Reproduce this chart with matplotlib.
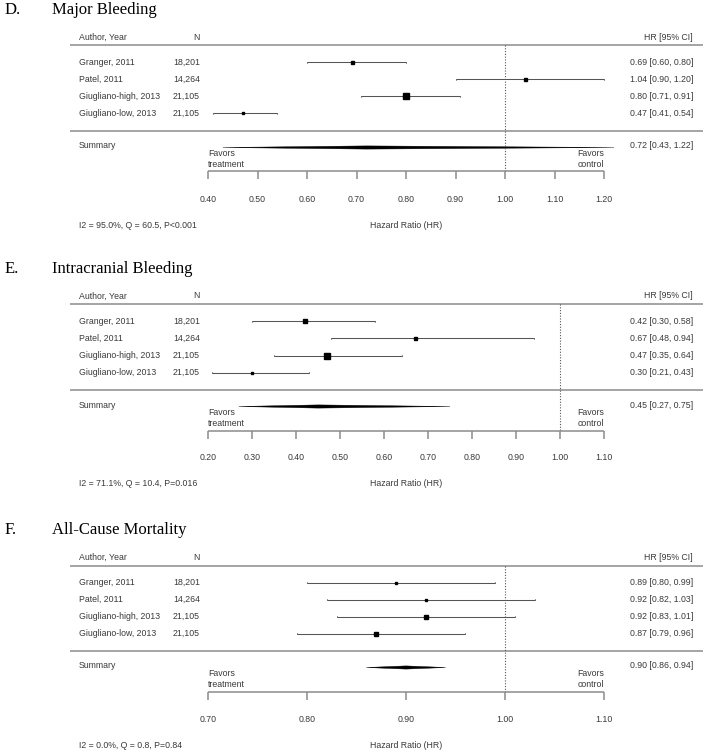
import matplotlib.pyplot as plt

# data
studies = ["Granger, 2011", "Patel, 2011", "Giugliano-high, 2013", "Giugliano-low, 2013"]
n_values = ["18,201", "14,264", "21,105", "21,105"]

titles = ["Major Bleeding", "Intracranial Bleeding", "All-Cause Mortality"]
letters = ["D.", "E.", "F."]

hr_major = [0.69, 1.04, 0.80, 0.47]
lo_major = [0.60, 0.90, 0.71, 0.41]
hi_major = [0.80, 1.20, 0.91, 0.54]
box_major = [3.0, 3.0, 6.0, 2.0]
summary_major = [0.72, 0.43, 1.22]
ticks_major = [0.40, 0.50, 0.60, 0.70, 0.80, 0.90, 1.00, 1.10, 1.20]
het_major = "I2 = 95.0%, Q = 60.5, P<0.001"

hr_ich = [0.42, 0.67, 0.47, 0.30]
lo_ich = [0.30, 0.48, 0.35, 0.21]
hi_ich = [0.58, 0.94, 0.64, 0.43]
box_ich = [4.0, 3.0, 6.0, 2.0]
summary_ich = [0.45, 0.27, 0.75]
ticks_ich = [0.20, 0.30, 0.40, 0.50, 0.60, 0.70, 0.80, 0.90, 1.00, 1.10]
het_ich = "I2 = 71.1%, Q = 10.4, P=0.016"

hr_mort = [0.89, 0.92, 0.92, 0.87]
lo_mort = [0.80, 0.82, 0.83, 0.79]
hi_mort = [0.99, 1.03, 1.01, 0.96]
box_mort = [2.5, 2.0, 5.0, 5.0]
summary_mort = [0.90, 0.86, 0.94]
ticks_mort = [0.70, 0.80, 0.90, 1.00, 1.10]
het_mort = "I2 = 0.0%, Q = 0.8, P=0.84"

panels = [
    (hr_major, lo_major, hi_major, box_major, summary_major, ticks_major, het_major),
    (hr_ich, lo_ich, hi_ich, box_ich, summary_ich, ticks_ich, het_ich),
    (hr_mort, lo_mort, hi_mort, box_mort, summary_mort, ticks_mort, het_mort),
]

W, H = 703, 750
PX = 72 / 100  # points per pixel
SANS = "Liberation Sans"
SERIF = "Liberation Serif"
TXT = "#3a3a3a"
GRAY = "#8c8c8c"
FS = 6.3

fig = plt.figure(figsize=(W / 100, H / 100), dpi=100)

panel_tops = [0, 259, 520]
PANEL_H = 250
AX_L, AX_R = 208, 604  # pixel span of the HR axis

for k, (hr, lo, hi, box, summ, ticks, het) in enumerate(panels):
    top = panel_tops[k]
    ax = fig.add_axes([0, 1 - (top + PANEL_H) / H, 1, PANEL_H / H])
    ax.set_axis_off()
    x0, x1 = ticks[0], ticks[-1]
    per_px = (x1 - x0) / (AX_R - AX_L)
    ax.set_xlim(x0 - AX_L * per_px, x0 + (W - AX_L) * per_px)
    ax.set_ylim(PANEL_H, 0)

    def fx(px):
        return x0 + (px - AX_L) * per_px

    # title
    ax.text(fx(5), 10, letters[k], family=SERIF, fontsize=12, va="center", ha="left")
    ax.text(fx(52), 10, titles[k], family=SERIF, fontsize=12, va="center", ha="left")

    # header
    ax.text(fx(79), 37, "Author, Year", family=SANS, fontsize=FS, color=TXT, va="center")
    ax.text(fx(200), 37, "N", family=SANS, fontsize=FS, color=TXT, va="center", ha="right")
    ax.text(fx(693), 37, "HR [95% CI]", family=SANS, fontsize=FS, color=TXT, va="center", ha="right")
    ax.hlines([45.5, 131], fx(70), fx(W), color=GRAY, lw=1.1)

    # reference line
    ax.vlines(1.0, 45.5, 171.5, color="#555555", lw=0.8, linestyles=(0, (1, 1.5)))

    rows = [62.5, 79.5, 96.5, 113.5]
    for i, y in enumerate(rows):
        ax.text(fx(79), y, studies[i], family=SANS, fontsize=FS, color=TXT, va="center")
        ax.text(fx(200), y, n_values[i], family=SANS, fontsize=FS, color=TXT, va="center", ha="right")
        ax.text(fx(693), y, f"{hr[i]:.2f} [{lo[i]:.2f}, {hi[i]:.2f}]", family=SANS,
                fontsize=FS, color=TXT, va="center", ha="right")
        ax.hlines(y, lo[i], hi[i], color="#555555", lw=0.75)
        ax.vlines([lo[i], hi[i]], y - 0.8, y + 0.8, color="#333333", lw=0.75)
        ax.plot(hr[i], y, marker="s", ms=box[i] * PX, color="black", ls="none")

    # summary diamond
    ys = 147.5
    est, slo, shi = summ
    ax.text(fx(79), 146, "Summary", family=SANS, fontsize=FS, color=TXT, va="center")
    ax.fill([slo, est, shi, est], [ys, ys - 1.6, ys, ys + 1.6], color="black", lw=0.3)
    ax.text(fx(693), 146, f"{est:.2f} [{slo:.2f}, {shi:.2f}]", family=SANS,
            fontsize=FS, color=TXT, va="center", ha="right")

    # favors labels
    ax.text(x0, 169, "Favors\ntreatment", family=SANS, fontsize=FS, color=TXT,
            va="bottom", ha="left", linespacing=1.25)
    ax.text(x1, 169, "Favors\ncontrol", family=SANS, fontsize=FS, color=TXT,
            va="bottom", ha="right", linespacing=1.25, multialignment="right")

    # axis
    ax.hlines(171.5, x0, x1, color=GRAY, lw=1.1)
    ax.vlines(ticks, 171.5, 179.5, color=GRAY, lw=1.1)
    for t in ticks:
        ax.text(t, 199, f"{t:.2f}", family=SANS, fontsize=FS, color=TXT, va="center", ha="center")

    ax.text(fx(79), 225, het, family=SANS, fontsize=FS, color=TXT, va="center")
    ax.text((x0 + x1) / 2, 225, "Hazard Ratio (HR)", family=SANS, fontsize=FS, color=TXT,
            va="center", ha="center")

fig.savefig("out.png", dpi=100)
